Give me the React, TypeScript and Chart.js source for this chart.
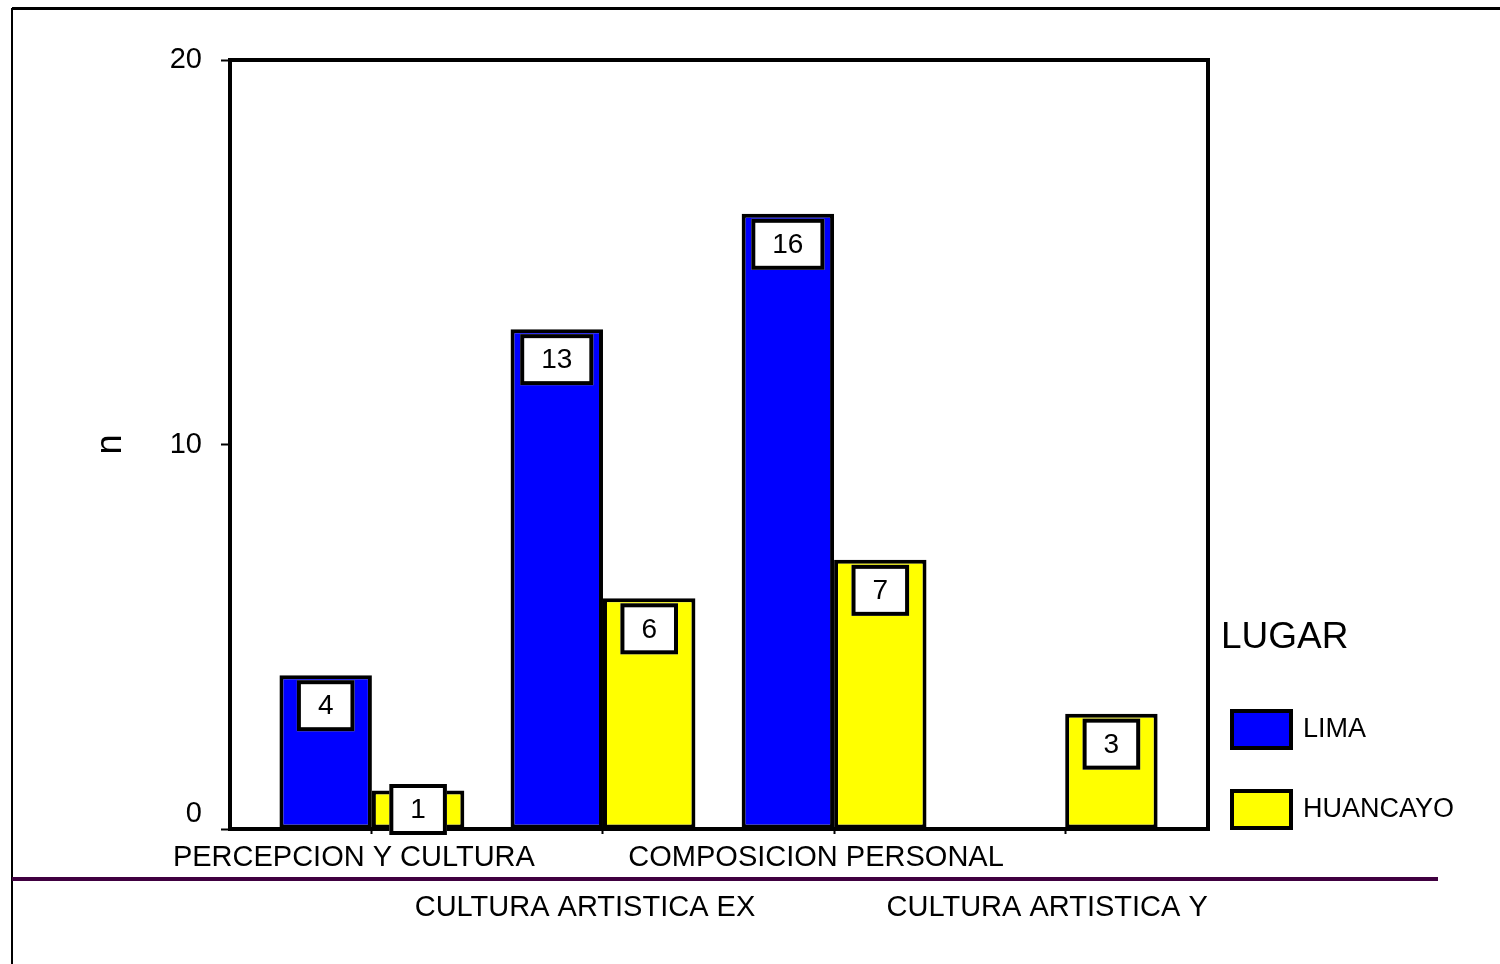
import React, { useEffect, useRef } from "react";
import { Chart, registerables } from "chart.js";

Chart.register(...registerables);

const categories = [
  "PERCEPCION Y CULTURA",
  "CULTURA ARTISTICA EX",
  "COMPOSICION PERSONAL",
  "CULTURA ARTISTICA Y",
];
const seriesNames = ["LIMA", "HUANCAYO"];
const limaValues = [4, 13, 16, 0];
const huancayoValues = [1, 6, 7, 3];
const yTicks = [0, 10, 20];
const legendTitle = "LUGAR";
const yTitle = "n";

const FONT = "'Liberation Sans', Arial, sans-serif";

const framePlugin = {
  id: "framePlugin",
  afterLayout(chart: any) {
    try {
      const ys = chart.scales.y;
      const items = ys.getLabelItems(chart.chartArea);
      items.forEach((it: any, i: number) => {
        if (ys.ticks[i] && ys.ticks[i].value === 0) {
          it.options.translation[1] -= 15;
        }
      });
    } catch (e) {}
  },
  afterDraw(chart: any) {
    const ctx = chart.ctx;
    const a = chart.chartArea;
    ctx.save();
    // outer frame
    ctx.strokeStyle = "#000";
    ctx.lineWidth = 3;
    ctx.beginPath();
    ctx.moveTo(12, 8.5);
    ctx.lineTo(1500, 8.5);
    ctx.stroke();
    ctx.lineWidth = 2;
    ctx.beginPath();
    ctx.moveTo(12, 8);
    ctx.lineTo(12, 964);
    ctx.stroke();
    // purple separator
    ctx.strokeStyle = "#400040";
    ctx.lineWidth = 4;
    ctx.beginPath();
    ctx.moveTo(12, 879);
    ctx.lineTo(1438, 879);
    ctx.stroke();
    // plot box top & right
    ctx.strokeStyle = "#000";
    ctx.lineWidth = 4;
    ctx.beginPath();
    ctx.moveTo(a.left - 2, a.top);
    ctx.lineTo(a.right, a.top);
    ctx.lineTo(a.right, a.bottom + 2);
    ctx.stroke();

    // value boxes
    ctx.font = `28px ${FONT}`;
    ctx.textAlign = "center";
    ctx.textBaseline = "middle";
    chart.data.datasets.forEach((ds: any, di: number) => {
      const meta = chart.getDatasetMeta(di);
      meta.data.forEach((bar: any, i: number) => {
        const v = ds.data[i].y;
        if (!v) return;
        const txt = String(v);
        const w = ctx.measureText(txt).width + 42;
        const h = 51;
        const top = Math.min(bar.y + 5, a.bottom + 6 - h);
        const x = bar.x - w / 2;
        ctx.fillStyle = "#fff";
        ctx.fillRect(x, top, w, h);
        ctx.lineWidth = 4;
        ctx.strokeStyle = "#000";
        ctx.strokeRect(x + 2, top + 2, w - 4, h - 4);
        ctx.fillStyle = "#000";
        ctx.fillText(txt, bar.x, top + h / 2 + 1);
      });
    });

    // legend
    ctx.textAlign = "left";
    ctx.fillStyle = "#000";
    ctx.font = `37px ${FONT}`;
    ctx.fillText(legendTitle, 1221, 638);
    ctx.font = `27px ${FONT}`;
    chart.data.datasets.forEach((ds: any, di: number) => {
      const top = 709 + di * 80;
      ctx.fillStyle = ds.backgroundColor;
      ctx.fillRect(1230, top, 63, 41);
      ctx.lineWidth = 4;
      ctx.strokeStyle = "#000";
      ctx.strokeRect(1232, top + 2, 59, 37);
      ctx.fillStyle = "#000";
      ctx.fillText(ds.label, 1303, top + 21);
    });
    ctx.restore();
  },
};

export default function App() {
  const ref = useRef<HTMLCanvasElement>(null);
  useEffect(() => {
    if (!ref.current) return;
    const chart = new Chart(ref.current, {
      type: "bar",
      data: {
        datasets: [
          {
            label: seriesNames[0],
            data: limaValues.map((y, i) => ({ x: i, y })),
            backgroundColor: "#0000ff",
            borderColor: "#000",
            borderWidth: 4,
            borderSkipped: false,
          },
          {
            label: seriesNames[1],
            data: huancayoValues.map((y, i) => ({ x: i, y })),
            backgroundColor: "#ffff00",
            borderColor: "#000",
            borderWidth: 4,
            borderSkipped: false,
          },
        ] as any,
      },
      options: {
        animation: false,
        responsive: false,
        devicePixelRatio: 1,
        categoryPercentage: 0.8,
        barPercentage: 1,
        layout: { padding: { top: 60, right: 292, left: 0, bottom: 0 } },
        plugins: { legend: { display: false }, tooltip: { enabled: false } },
        scales: {
          x: {
            type: "linear",
            offset: false,
            min: -0.614,
            max: 3.618,
            afterBuildTicks: (s: any) => {
              s.ticks = categories.map((_, i) => ({ value: i }));
            },
            afterFit: (s: any) => {
              s.height = 135;
            },
            grid: {
              offset: false,
              drawOnChartArea: false,
              tickLength: 5,
              tickColor: "#000",
              tickWidth: 2,
            },
            border: { display: true, color: "#000", width: 4 },
            ticks: {
              autoSkip: false,
              maxRotation: 0,
              padding: -1,
              labelOffset: -18,
              color: "#000",
              font: { family: FONT, size: 29, lineHeight: "50px" as any },
              callback: (v: any) => {
                const i = Math.round(Number(v));
                const t = categories[i] ?? "";
                return i % 2 === 1 ? ["", t] : t;
              },
            },
          },
          y: {
            min: 0,
            max: 20,
            afterBuildTicks: (s: any) => {
              s.ticks = yTicks.map((v) => ({ value: v }));
            },
            afterFit: (s: any) => {
              s.width = 230;
            },
            grid: {
              drawOnChartArea: false,
              tickLength: 9,
              tickColor: "#000",
              tickWidth: 2,
            },
            border: { display: true, color: "#000", width: 4 },
            ticks: {
              padding: 19,
              color: "#000",
              font: { family: FONT, size: 29 },
            },
            title: {
              display: true,
              text: yTitle,
              color: "#000",
              font: { family: FONT, size: 36 },
              padding: { top: 89, bottom: 0 },
            },
          },
        },
      } as any,
      plugins: [framePlugin],
    });
    return () => chart.destroy();
  }, []);
  return (
    <div style={{ position: "fixed", left: 0, top: 0, width: 1500, height: 964, background: "#fff" }}>
      <canvas ref={ref} width={1500} height={964} style={{ display: "block" }} />
    </div>
  );
}
